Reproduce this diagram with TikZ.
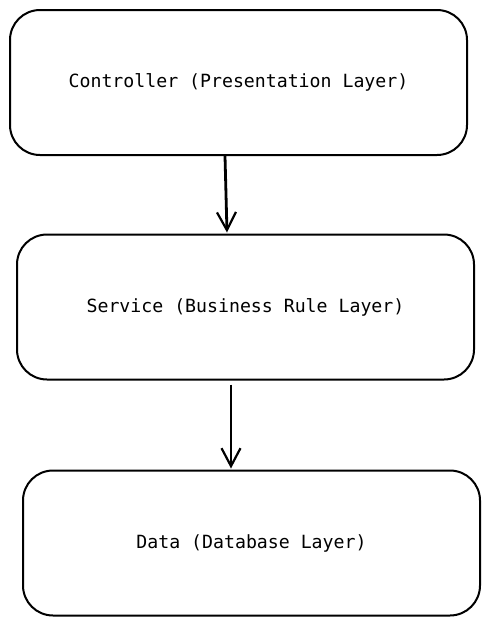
\documentclass[tikz,border=0pt]{standalone}
\usepackage{fontspec}
\setmonofont{DejaVu Sans Mono}
\usetikzlibrary{positioning,arrows.meta}
\begin{document}
\begin{tikzpicture}[x=1pt, y=-1pt,
  every node/.style={align=center, font=\ttfamily\fontsize{18.2}{21}\selectfont},
  layerbox/.style={draw, line width=2pt, rounded corners=30pt, minimum width=457pt, minimum height=145pt},
  flow/.style={-{Straight Barb[length=18pt, width=19pt, line width=2.2pt]}, line width=2.8pt}]
\useasboundingbox (0,0) rectangle (490,625);
\node (controller) [layerbox] at (238.5,82.5) {Controller (Presentation Layer)};
\node (service) [layerbox] at (245.5,307) {Service (Business Rule Layer)};
\node (data) [layerbox] at (251.5,543) {Data (Database Layer)};

\draw[flow] ([xshift=-13.5pt]controller.south) -- ([xshift=-18.5pt, yshift=1pt]service.north);
\draw[flow] ([xshift=-14.5pt, yshift=-4pt]service.south) -- ([xshift=-20.5pt, yshift=1pt]data.north);
\end{tikzpicture}
\end{document}
